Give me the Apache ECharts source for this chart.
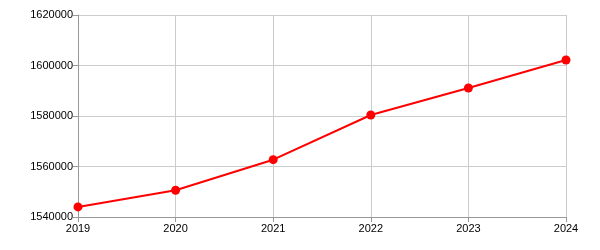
<!DOCTYPE html>
<html><head><meta charset="utf-8">
<script src="https://cdn.jsdelivr.net/npm/echarts@6/dist/echarts.min.js"></script>
<style>html,body{margin:0;padding:0;background:#fff}#c{width:600px;height:250px}</style>
</head><body><div id="c"></div>
<script>
var categories = ['2019','2020','2021','2022','2023','2024'];
var values = [1544000, 1550600, 1562700, 1580400, 1591100, 1602200];
var yTicks = [1540000, 1560000, 1580000, 1600000, 1620000];
var chart = echarts.init(document.getElementById('c'), null, {renderer:'canvas'});
chart.setOption({
  animation:false,
  grid:{left:78,right:34,top:15,bottom:33,containLabel:false},
  xAxis:{type:'category',data:categories,boundaryGap:false,
    axisLine:{lineStyle:{color:'#999',width:1}},
    axisTick:{show:true,length:5,lineStyle:{color:'#999'}},
    axisLabel:{color:'#000',fontFamily:'Liberation Sans, Arial',fontSize:11,margin:6},
    splitLine:{show:true,lineStyle:{color:'#ccc',width:1}}},
  yAxis:{type:'value',min:yTicks[0],max:yTicks[yTicks.length-1],interval:20000,
    axisLine:{show:true,lineStyle:{color:'#999',width:1}},
    axisTick:{show:true,length:5,lineStyle:{color:'#999'}},
    axisLabel:{color:'#000',fontFamily:'Liberation Sans, Arial',fontSize:11,margin:5,
      formatter:function(v){return String(v);}},
    splitLine:{show:true,lineStyle:{color:'#ccc',width:1}}},
  series:[{type:'line',data:values,symbol:'circle',symbolSize:9,
    lineStyle:{color:'#ff0000',width:2},itemStyle:{color:'#ff0000'}}]
});
</script></body></html>
